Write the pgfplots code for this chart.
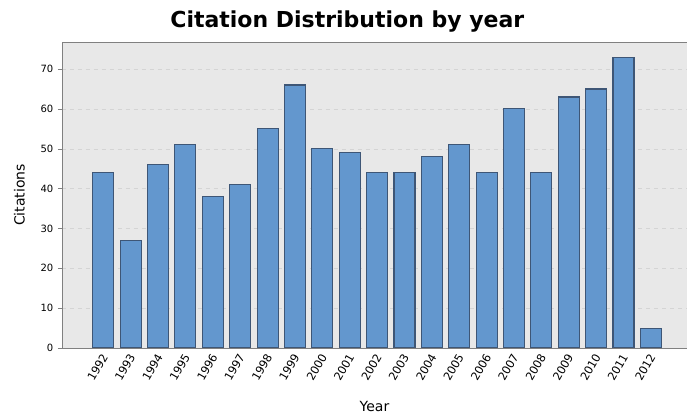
\documentclass[border=0pt]{standalone}
\usepackage{pgfplots}
\pgfplotsset{compat=1.18}
\usepackage{fontspec}
\setmainfont{DejaVu Sans}

\definecolor{barfill}{RGB}{99,151,206}
\definecolor{barline}{RGB}{62,86,118}
\definecolor{plotbg}{RGB}{232,232,232}
\definecolor{gridc}{RGB}{212,212,212}

\begin{document}
\begin{tikzpicture}
\useasboundingbox (-46.5pt,-54pt) rectangle (468.75pt,261pt);
\node[font=\fontsize{16.5}{19}\selectfont\bfseries] at (214pt,245pt) {Citation Distribution by year};
\begin{axis}[
    scale only axis,
    width=468.75pt, height=229.5pt,
    at={(0,0)}, anchor=south west,
    xmin=-1.51, xmax=21.32,
    ymin=0, ymax=76.8,
    ytick={0,10,...,70},
    xtick={0,...,20},
    xticklabels={1992,1993,1994,1995,1996,1997,1998,1999,2000,2001,2002,2003,2004,2005,2006,2007,2008,2009,2010,2011,2012},
    x tick label style={rotate=60, anchor=east, font=\fontsize{8.5}{9}\selectfont, yshift=-2pt, inner sep=1pt},
    y tick label style={font=\fontsize{7.5}{9}\selectfont},
    /pgf/number format/assume math mode=true,
    xlabel={Year}, ylabel={Citations},
    label style={font=\fontsize{10.5}{12}\selectfont},
    xlabel style={yshift=-10pt},
    ylabel style={yshift=5pt},
    axis background/.style={fill=plotbg},
    axis line style={gray},
    ymajorgrids,
    major grid style={gridc, dashed, line width=0.4pt},
    x tick style={draw=none},
    y tick style={gray},
    tick align=outside,
    major tick length=3pt,
    ytick pos=left,
    bar width=15.75pt,
]
\addplot[ybar, fill=barfill, draw=barline, line width=0.8pt] coordinates {
    (0,44) (1,27) (2,46) (3,51) (4,38) (5,41) (6,55) (7,66) (8,50) (9,49)
    (10,44) (11,44) (12,48) (13,51) (14,44) (15,60) (16,44) (17,63) (18,65)
    (19,73) (20,5)
};
\end{axis}
\end{tikzpicture}
\end{document}
